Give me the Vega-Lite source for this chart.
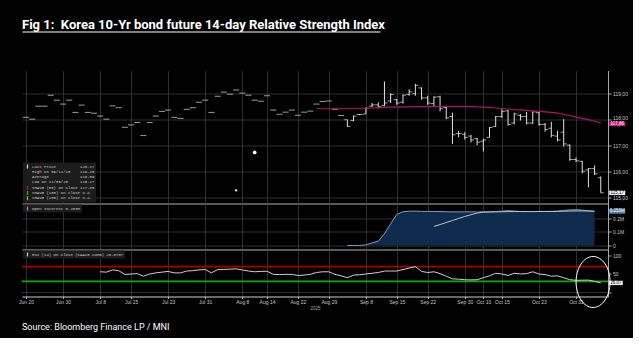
{
  "$schema": "https://vega.github.io/schema/vega-lite/v6.json",
  "background": "#000000",
  "padding": {"left": 18, "top": 18.5, "right": 5, "bottom": 5},
  "title": {"text": "Fig 1:\u00a0 Korea 10-Yr bond future 14-day Relative Strength Index", "anchor": "start", "frame": "group", "offset": 0, "fontSize": 13, "font": "Roboto", "fontWeight": "bold", "color": "#ffffff"},
  "datasets": {
    "px": [
      {"d":"Jun 20","o":118.07,"c":118.07},
      {"d":"Jun 23","o":118.0,"c":118.0},
      {"d":"Jun 24","o":118.5,"c":118.5},
      {"d":"Jun 25","o":118.5,"c":118.5},
      {"d":"Jun 26","o":118.92,"c":118.92},
      {"d":"Jun 27","o":118.73,"c":118.73},
      {"d":"Jun 30","o":118.58,"c":118.58},
      {"d":"Jul 1","o":118.73,"c":118.73},
      {"d":"Jul 2","o":118.26,"c":118.26},
      {"d":"Jul 3","o":118.54,"c":118.54},
      {"d":"Jul 4","o":118.26,"c":118.26},
      {"d":"Jul 7","o":118.23,"c":118.23},
      {"d":"Jul 8","o":118.12,"c":118.12,"rsi":56},
      {"d":"Jul 9","o":118.0,"c":118.0,"rsi":55},
      {"d":"Jul 10","o":118.51,"c":118.51,"rsi":61},
      {"d":"Jul 11","o":118.44,"c":118.44,"rsi":59},
      {"d":"Jul 14","o":117.69,"c":117.69,"rsi":48.6},
      {"d":"Jul 15","o":117.78,"c":117.78,"rsi":50},
      {"d":"Jul 16","o":117.87,"c":117.87,"rsi":51},
      {"d":"Jul 17","o":117.37,"c":117.37,"rsi":44},
      {"d":"Jul 18","o":117.87,"c":117.87,"rsi":50},
      {"d":"Jul 21","o":118.12,"c":118.12,"rsi":53},
      {"d":"Jul 22","o":118.3,"c":118.3,"rsi":55},
      {"d":"Jul 23","o":118.35,"c":118.35,"rsi":57},
      {"d":"Jul 24","o":118.07,"c":118.07,"rsi":53},
      {"d":"Jul 25","o":118.03,"c":118.03,"rsi":53},
      {"d":"Jul 28","o":118.38,"c":118.38,"rsi":58},
      {"d":"Jul 29","o":118.44,"c":118.44,"rsi":59},
      {"d":"Jul 30","o":118.65,"c":118.65,"rsi":61},
      {"d":"Jul 31","o":118.73,"c":118.73,"rsi":62},
      {"d":"Aug 1","o":118.26,"c":118.26,"rsi":53},
      {"d":"Aug 4","o":118.88,"c":118.88,"rsi":62},
      {"d":"Aug 5","o":119.04,"c":119.04,"rsi":62.5},
      {"d":"Aug 6","o":118.96,"c":118.96,"rsi":63},
      {"d":"Aug 7","o":119.12,"c":119.12,"rsi":64},
      {"d":"Aug 8","o":119.0,"c":119.0,"rsi":61},
      {"d":"Aug 11","o":118.92,"c":118.92,"rsi":58},
      {"d":"Aug 12","o":118.73,"c":118.73,"rsi":56},
      {"d":"Aug 13","o":118.69,"c":118.69,"rsi":57},
      {"d":"Aug 14","o":118.9,"c":118.9,"rsi":57.5},
      {"d":"Aug 18","o":118.35,"c":118.35,"rsi":49},
      {"d":"Aug 19","o":118.19,"c":118.19,"rsi":48.5},
      {"d":"Aug 20","o":118.27,"c":118.27,"rsi":49},
      {"d":"Aug 21","o":118.35,"c":118.35,"rsi":49},
      {"d":"Aug 22","o":118.15,"c":118.15,"rsi":46},
      {"d":"Aug 25","o":118.27,"c":118.27,"rsi":47},
      {"d":"Aug 26","o":118.31,"c":118.31,"rsi":49},
      {"d":"Aug 27","o":118.58,"c":118.58,"rsi":54,"ma":118.41},
      {"d":"Aug 28","o":118.68,"c":118.68,"rsi":56,"ma":118.4},
      {"d":"Aug 29","o":118.7,"c":118.7,"rsi":56,"ma":118.4},
      {"d":"Sep 1","o":118.38,"c":118.38,"rsi":49,"ma":118.4},
      {"d":"Sep 2","o":118.14,"c":118.14,"rsi":45,"ma":118.4},
      {"d":"Sep 3","o":117.98,"h":117.98,"l":117.7,"c":117.72,"rsi":40,"ma":118.41,"oi":0.0},
      {"d":"Sep 4","o":117.95,"h":118.14,"l":117.92,"c":118.12,"rsi":47,"ma":118.41,"oi":0.0},
      {"d":"Sep 5","o":118.18,"h":118.2,"l":118.15,"c":118.18,"rsi":48,"ma":118.42,"oi":0.001},
      {"d":"Sep 8","o":118.2,"h":118.45,"l":118.2,"c":118.42,"rsi":50,"ma":118.42,"oi":0.004},
      {"d":"Sep 9","o":118.5,"h":118.62,"l":118.46,"c":118.55,"rsi":52,"ma":118.43,"oi":0.02},
      {"d":"Sep 10","o":118.55,"h":118.65,"l":118.42,"c":118.48,"rsi":54,"ma":118.44,"oi":0.032},
      {"d":"Sep 11","o":118.52,"h":119.45,"l":118.5,"c":118.62,"rsi":58,"ma":118.45,"oi":0.087},
      {"d":"Sep 12","o":118.7,"h":119.0,"l":118.62,"c":118.95,"rsi":58,"ma":118.46,"oi":0.16},
      {"d":"Sep 15","o":118.75,"h":118.78,"l":118.55,"c":118.62,"rsi":58,"ma":118.46,"oi":0.23},
      {"d":"Sep 16","o":118.65,"h":118.95,"l":118.6,"c":118.92,"rsi":62,"ma":118.47,"oi":0.25},
      {"d":"Sep 17","o":118.95,"h":119.15,"l":118.9,"c":119.05,"rsi":66,"ma":118.47,"oi":0.254},
      {"d":"Sep 18","o":118.98,"h":119.36,"l":118.9,"c":119.3,"rsi":70,"ma":118.48,"oi":0.255},
      {"d":"Sep 19","o":119.2,"h":119.22,"l":118.75,"c":118.82,"rsi":57,"ma":118.48,"oi":0.253},
      {"d":"Sep 22","o":118.82,"h":118.9,"l":118.55,"c":118.62,"rsi":54,"ma":118.48,"oi":0.252},
      {"d":"Sep 23","o":118.6,"h":118.88,"l":118.5,"c":118.85,"rsi":56,"ma":118.48,"oi":0.252,"oim":0.141},
      {"d":"Sep 24","o":118.86,"h":118.9,"l":118.3,"c":118.4,"rsi":51,"ma":118.49,"oi":0.251,"oim":0.155},
      {"d":"Sep 25","o":118.45,"h":118.5,"l":118.0,"c":118.05,"rsi":44,"ma":118.49,"oi":0.25,"oim":0.17},
      {"d":"Sep 26","o":118.1,"h":118.25,"l":117.05,"c":117.4,"rsi":37,"ma":118.49,"oi":0.249,"oim":0.185},
      {"d":"Sep 29","o":117.45,"h":117.55,"l":117.3,"c":117.45,"rsi":36,"ma":118.49,"oi":0.249,"oim":0.2},
      {"d":"Sep 30","o":117.42,"h":117.5,"l":117.22,"c":117.3,"rsi":34.5,"ma":118.49,"oi":0.249,"oim":0.215},
      {"d":"Oct 1","o":117.35,"h":117.4,"l":117.1,"c":117.2,"rsi":34,"ma":118.48,"oi":0.249,"oim":0.228},
      {"d":"Oct 2","o":117.25,"h":117.28,"l":117.0,"c":117.12,"rsi":34.5,"ma":118.47,"oi":0.248,"oim":0.24},
      {"d":"Oct 10","o":117.15,"h":117.25,"l":116.76,"c":117.2,"rsi":40,"ma":118.46,"oi":0.249,"oim":0.247},
      {"d":"Oct 13","o":117.3,"h":117.7,"l":117.3,"c":117.68,"rsi":45,"ma":118.45,"oi":0.25,"oim":0.248},
      {"d":"Oct 14","o":117.72,"h":118.12,"l":117.7,"c":118.1,"rsi":52,"ma":118.43,"oi":0.252,"oim":0.249},
      {"d":"Oct 15","o":118.1,"h":118.38,"l":118.05,"c":118.3,"rsi":50,"ma":118.41,"oi":0.254,"oim":0.25},
      {"d":"Oct 16","o":118.32,"h":118.35,"l":117.75,"c":117.8,"rsi":46,"ma":118.39,"oi":0.258,"oim":0.251},
      {"d":"Oct 17","o":117.85,"h":118.25,"l":117.8,"c":118.2,"rsi":52,"ma":118.37,"oi":0.255,"oim":0.251},
      {"d":"Oct 20","o":118.15,"h":118.2,"l":117.95,"c":118.1,"rsi":50,"ma":118.36,"oi":0.252,"oim":0.251},
      {"d":"Oct 21","o":118.1,"h":118.28,"l":117.8,"c":117.85,"rsi":51,"ma":118.34,"oi":0.252,"oim":0.251},
      {"d":"Oct 22","o":117.85,"h":118.3,"l":117.82,"c":118.28,"rsi":56,"ma":118.32,"oi":0.251,"oim":0.251},
      {"d":"Oct 23","o":118.25,"h":118.3,"l":117.75,"c":117.8,"rsi":50,"ma":118.3,"oi":0.252,"oim":0.252},
      {"d":"Oct 24","o":117.8,"h":117.85,"l":117.52,"c":117.6,"rsi":48.6,"ma":118.28,"oi":0.252,"oim":0.252},
      {"d":"Oct 27","o":117.65,"h":117.9,"l":117.3,"c":117.38,"rsi":44,"ma":118.26,"oi":0.253,"oim":0.252},
      {"d":"Oct 28","o":117.35,"h":117.55,"l":117.15,"c":117.2,"rsi":45,"ma":118.23,"oi":0.254,"oim":0.253},
      {"d":"Oct 29","o":117.5,"h":118.0,"l":116.95,"c":117.05,"rsi":40,"ma":118.19,"oi":0.26,"oim":0.254},
      {"d":"Oct 30","o":117.0,"h":117.03,"l":116.4,"c":116.45,"rsi":34.5,"ma":118.14,"oi":0.264,"oim":0.255},
      {"d":"Oct 31","o":116.45,"h":116.52,"l":116.35,"c":116.4,"rsi":33,"ma":118.08,"oi":0.265,"oim":0.256},
      {"d":"Nov 3","o":116.38,"h":116.4,"l":115.92,"c":116.0,"rsi":33.2,"ma":118.03,"oi":0.262,"oim":0.256},
      {"d":"Nov 4","o":116.05,"h":116.12,"l":115.38,"c":116.1,"rsi":33.5,"ma":117.98,"oi":0.258,"oim":0.255},
      {"d":"Nov 5","o":116.1,"h":116.22,"l":115.85,"c":115.9,"rsi":30,"ma":117.92,"oi":0.253,"oim":0.254},
      {"d":"Nov 6","o":115.75,"h":115.8,"l":115.17,"c":115.17,"rsi":26.07,"ma":117.86}
    ],
    "ev": [
      {"d":"Aug 12","p":116.72,"kind":"big"},
      {"d":"Aug 7","p":115.26,"kind":"small"}
    ],
    "ann": [
      {"d":"Nov 5","rsi":28.4}
    ]
  },
  "bounds": "flush",
  "spacing": 0,
  "vconcat": [
    {
      "width": 358,
      "height": 38.5,
      "data": {"values": []},
      "mark": "rule",
      "encoding": {
        "x": {"field": "u", "type": "quantitative", "scale": {"domain": [0, 1]},
          "axis": {"orient": "top", "labels": false, "ticks": false, "grid": false, "domain": true, "domainColor": "#ffffff", "domainWidth": 1.2, "title": null}}
      }
    },
    {
      "width": 586,
      "height": 133,
      "data": {"name": "px"},
      "encoding": {
        "x": {"field": "d", "type": "ordinal",
          "scale": {"type": "point", "padding": 0.91, "align": 0.356, "domain": ["Jun 20","Jun 23","Jun 24","Jun 25","Jun 26","Jun 27","Jun 30","Jul 1","Jul 2","Jul 3","Jul 4","Jul 7","Jul 8","Jul 9","Jul 10","Jul 11","Jul 14","Jul 15","Jul 16","Jul 17","Jul 18","Jul 21","Jul 22","Jul 23","Jul 24","Jul 25","Jul 28","Jul 29","Jul 30","Jul 31","Aug 1","Aug 4","Aug 5","Aug 6","Aug 7","Aug 8","Aug 11","Aug 12","Aug 13","Aug 14","Aug 18","Aug 19","Aug 20","Aug 21","Aug 22","Aug 25","Aug 26","Aug 27","Aug 28","Aug 29","Sep 1","Sep 2","Sep 3","Sep 4","Sep 5","Sep 8","Sep 9","Sep 10","Sep 11","Sep 12","Sep 15","Sep 16","Sep 17","Sep 18","Sep 19","Sep 22","Sep 23","Sep 24","Sep 25","Sep 26","Sep 29","Sep 30","Oct 1","Oct 2","Oct 10","Oct 13","Oct 14","Oct 15","Oct 16","Oct 17","Oct 20","Oct 21","Oct 22","Oct 23","Oct 24","Oct 27","Oct 28","Oct 29","Oct 30","Oct 31","Nov 3","Nov 4","Nov 5","Nov 6"]},
          "axis": {"values": ["Jun 20","Jun 30","Jul 8","Jul 15","Jul 23","Jul 31","Aug 8","Aug 14","Aug 22","Aug 29","Sep 8","Sep 15","Sep 22","Sep 30","Oct 10","Oct 15","Oct 23","Oct 31"], "labels": false, "ticks": false, "domain": true, "domainColor": "#5a5a5a", "domainWidth": 2, "grid": true, "title": null}
        }
      },
      "layer": [
        {
          "mark": {"type": "rule", "color": "#e4e4e4", "strokeWidth": 1},
          "transform": [{"filter": "isValid(datum.h)"}],
          "encoding": {
            "y": {"field": "h", "type": "quantitative", "scale": {"domain": [114.76, 119.87], "zero": false, "nice": false},
              "axis": {"orient": "right", "title": null, "values": [115, 116, 117, 118, 119], "tickCount": 5, "labelOverlap": false, "labelExpr": "replace(format(datum.value, '.2f'), '.', ',')", "labelOffset": {"condition": {"test": "datum.value == 118", "value": -1.3}, "value": 0}, "grid": true, "tickSize": 3}},
            "y2": {"field": "l"}
          }
        },
        {
          "mark": {"type": "tick", "orient": "horizontal", "color": "#e4e4e4", "size": 3, "thickness": 1, "xOffset": -1.5},
          "encoding": {"y": {"field": "o", "type": "quantitative", "scale": {"domain": [114.76, 119.87], "zero": false, "nice": false}}}
        },
        {
          "mark": {"type": "tick", "orient": "horizontal", "color": "#e4e4e4", "size": 3, "thickness": 1, "xOffset": 1.5},
          "encoding": {"y": {"field": "c", "type": "quantitative", "scale": {"domain": [114.76, 119.87], "zero": false, "nice": false}}}
        },
        {
          "mark": {"type": "line", "strokeWidth": 1.2},
          "transform": [{"filter": "isValid(datum.ma)"}],
          "encoding": {
            "y": {"field": "ma", "type": "quantitative", "scale": {"domain": [114.76, 119.87], "zero": false, "nice": false}},
            "color": {"datum": "SMAVG (50) on Close 117.85",
              "scale": {"domain": ["Last Price          115.17", "High on 09/11/25    119.45", "Average             118.09", "Low on 11/06/25     115.17", "SMAVG (50) on Close 117.85", "SMAVG (100) on Close n.a.", "SMAVG (200) on Close n.a."],
                "range": ["#d8d8d8", "#1c1c1c", "#1c1c1c", "#1c1c1c", "#b0126a", "#1faa1f", "#c8a010"]},
              "legend": {"orient": "bottom-left", "offset": 1, "title": null, "fillColor": "#1c1c1c", "padding": 1.5, "labelFont": "Liberation Mono", "labelFontSize": 4, "labelColor": "#cfcfcf", "symbolType": "M0,-1V1", "symbolSize": 16, "symbolStrokeWidth": 1.2, "rowPadding": 0.3, "clipHeight": 5, "labelOffset": 1.5, "labelLimit": 200, "labelExpr": "replace(datum.label, regexp(' ', 'g'), '\u00a0')"}
            }
          }
        },
        {
          "transform": [{"filter": "datum.d == 'Nov 6'"}, {"calculate": "replace(format(datum.ma, '.2f'), '.', ',')", "as": "tag"}],
          "mark": {"type": "point", "shape": "M-1,-0.28H1V0.28H-1Z", "size": 256, "filled": true, "color": "#e0148c", "opacity": 1, "xOffset": 16.5, "yOffset": 1},
          "encoding": {"y": {"field": "ma", "type": "quantitative", "scale": {"domain": [114.76, 119.87], "zero": false, "nice": false}}}
        },
        {
          "transform": [{"filter": "datum.d == 'Nov 6'"}, {"calculate": "replace(format(datum.ma, '.2f'), '.', ',')", "as": "tag"}],
          "mark": {"type": "text", "color": "#ffffff", "fontSize": 4.5, "xOffset": 16.5, "yOffset": 1, "align": "center", "baseline": "middle"},
          "encoding": {"y": {"field": "ma", "type": "quantitative", "scale": {"domain": [114.76, 119.87], "zero": false, "nice": false}}, "text": {"field": "tag"}}
        },
        {
          "transform": [{"filter": "datum.d == 'Nov 6'"}, {"calculate": "replace(format(datum.c, '.2f'), '.', ',')", "as": "tag"}],
          "mark": {"type": "point", "shape": "M-1,-0.28H1V0.28H-1Z", "size": 256, "filled": true, "color": "#f2f2f2", "opacity": 1, "xOffset": 16.5},
          "encoding": {"y": {"field": "c", "type": "quantitative", "scale": {"domain": [114.76, 119.87], "zero": false, "nice": false}}}
        },
        {
          "transform": [{"filter": "datum.d == 'Nov 6'"}, {"calculate": "replace(format(datum.c, '.2f'), '.', ',')", "as": "tag"}],
          "mark": {"type": "text", "color": "#000000", "fontSize": 4.5, "xOffset": 16.5, "align": "center", "baseline": "middle"},
          "encoding": {"y": {"field": "c", "type": "quantitative", "scale": {"domain": [114.76, 119.87], "zero": false, "nice": false}}, "text": {"field": "tag"}}
        },
        {
          "data": {"name": "ev"},
          "mark": {"type": "circle", "color": "#ffffff", "opacity": 1},
          "encoding": {
            "y": {"field": "p", "type": "quantitative", "scale": {"domain": [114.76, 119.87], "zero": false, "nice": false}},
            "size": {"field": "kind", "type": "nominal", "scale": {"domain": ["big", "small"], "range": [14, 5]}, "legend": null}
          }
        }
      ]
    },
    {
      "width": 586,
      "height": 46,
      "data": {"name": "px"},
      "encoding": {
        "x": {"field": "d", "type": "ordinal",
          "scale": {"type": "point", "padding": 0.91, "align": 0.356, "domain": ["Jun 20","Jun 23","Jun 24","Jun 25","Jun 26","Jun 27","Jun 30","Jul 1","Jul 2","Jul 3","Jul 4","Jul 7","Jul 8","Jul 9","Jul 10","Jul 11","Jul 14","Jul 15","Jul 16","Jul 17","Jul 18","Jul 21","Jul 22","Jul 23","Jul 24","Jul 25","Jul 28","Jul 29","Jul 30","Jul 31","Aug 1","Aug 4","Aug 5","Aug 6","Aug 7","Aug 8","Aug 11","Aug 12","Aug 13","Aug 14","Aug 18","Aug 19","Aug 20","Aug 21","Aug 22","Aug 25","Aug 26","Aug 27","Aug 28","Aug 29","Sep 1","Sep 2","Sep 3","Sep 4","Sep 5","Sep 8","Sep 9","Sep 10","Sep 11","Sep 12","Sep 15","Sep 16","Sep 17","Sep 18","Sep 19","Sep 22","Sep 23","Sep 24","Sep 25","Sep 26","Sep 29","Sep 30","Oct 1","Oct 2","Oct 10","Oct 13","Oct 14","Oct 15","Oct 16","Oct 17","Oct 20","Oct 21","Oct 22","Oct 23","Oct 24","Oct 27","Oct 28","Oct 29","Oct 30","Oct 31","Nov 3","Nov 4","Nov 5","Nov 6"]},
          "axis": {"values": ["Jun 20","Jun 30","Jul 8","Jul 15","Jul 23","Jul 31","Aug 8","Aug 14","Aug 22","Aug 29","Sep 8","Sep 15","Sep 22","Sep 30","Oct 10","Oct 15","Oct 23","Oct 31"], "labels": false, "ticks": false, "domain": true, "domainColor": "#5a5a5a", "domainWidth": 2, "grid": true, "title": null}
        }
      },
      "layer": [
        {
          "mark": {"type": "area", "color": "#0e2a4c", "opacity": 1},
          "transform": [{"filter": "isValid(datum.oi)"}],
          "encoding": {
            "y": {"field": "oi", "type": "quantitative", "scale": {"domain": [-0.0296, 0.311], "zero": false, "nice": false},
              "axis": {"orient": "right", "title": null, "values": [0, 0.1, 0.2], "tickCount": 3, "labelOverlap": false, "labelExpr": "datum.value == 0 ? '0' : datum.value > 0.25 ? '' : format(datum.value, '.1f') + 'M'", "grid": true, "tickSize": 3}},
            "y2": {"datum": 0}
          }
        },
        {
          "mark": {"type": "line", "strokeWidth": 1},
          "transform": [{"filter": "isValid(datum.oi)"}],
          "encoding": {
            "y": {"field": "oi", "type": "quantitative", "scale": {"domain": [-0.0296, 0.311], "zero": false, "nice": false}},
            "color": {"datum": "Open Interest 0.253M", "scale": {"domain": ["Open Interest 0.253M"], "range": ["#7d9bc1"]},
              "legend": {"orient": "top-left", "offset": 1, "title": null, "fillColor": "#1c1c1c", "padding": 1.5, "labelFont": "Liberation Mono", "labelFontSize": 4, "labelColor": "#cfcfcf", "symbolType": "M0,-1V1", "symbolSize": 16, "symbolStrokeWidth": 1.2, "clipHeight": 5, "labelOffset": 1.5, "labelLimit": 200}
            }
          }
        },
        {
          "mark": {"type": "line", "color": "#b8c4d0", "strokeWidth": 1},
          "transform": [{"filter": "isValid(datum.oim)"}],
          "encoding": {
            "y": {"field": "oim", "type": "quantitative", "scale": {"domain": [-0.0296, 0.311], "zero": false, "nice": false}}
          }
        },
        {
          "transform": [{"filter": "datum.d == 'Nov 5'"}, {"calculate": "format(datum.oi, '.3f') + 'M'", "as": "tag"}],
          "mark": {"type": "point", "shape": "M-1,-0.3H1V0.3H-1Z", "size": 256, "filled": true, "color": "#5f82b0", "opacity": 1, "xOffset": 22.6},
          "encoding": {"y": {"field": "oi", "type": "quantitative", "scale": {"domain": [-0.0296, 0.311], "zero": false, "nice": false}}}
        },
        {
          "transform": [{"filter": "datum.d == 'Nov 5'"}, {"calculate": "format(datum.oi, '.3f') + 'M'", "as": "tag"}],
          "mark": {"type": "text", "color": "#ffffff", "fontSize": 4.5, "xOffset": 22.6, "align": "center", "baseline": "middle"},
          "encoding": {"y": {"field": "oi", "type": "quantitative", "scale": {"domain": [-0.0296, 0.311], "zero": false, "nice": false}}, "text": {"field": "tag"}}
        }
      ]
    },
    {
      "width": 586,
      "height": 47,
      "data": {"name": "px"},
      "title": {"text": "Source: Bloomberg Finance LP / MNI", "orient": "bottom", "anchor": "start", "frame": "group", "offset": 13, "fontSize": 9, "font": "Roboto", "fontWeight": "normal", "color": "#ffffff"},
      "layer": [
        {
          "data": {"values": [{"lvl": 70}]},
          "mark": {"type": "rule", "color": "#a80000", "strokeWidth": 1.6},
          "encoding": {"y": {"field": "lvl", "type": "quantitative", "scale": {"domain": [-10.8, 116.2], "zero": false, "nice": false}}}
        },
        {
          "data": {"values": [{"lvl": 30}]},
          "mark": {"type": "rule", "color": "#00b000", "strokeWidth": 1.6},
          "encoding": {"y": {"field": "lvl", "type": "quantitative", "scale": {"domain": [-10.8, 116.2], "zero": false, "nice": false}}}
        },
        {
          "data": {"values": [{"lvl": 0}]},
          "mark": {"type": "rule", "color": "#3a3a3a", "strokeWidth": 0.8},
          "encoding": {"y": {"field": "lvl", "type": "quantitative", "scale": {"domain": [-10.8, 116.2], "zero": false, "nice": false}}}
        },
        {
          "mark": {"type": "line", "strokeWidth": 1},
          "transform": [{"filter": "isValid(datum.rsi)"}],
          "encoding": {
            "x": {"field": "d", "type": "ordinal",
              "scale": {"type": "point", "padding": 0.91, "align": 0.356, "domain": ["Jun 20","Jun 23","Jun 24","Jun 25","Jun 26","Jun 27","Jun 30","Jul 1","Jul 2","Jul 3","Jul 4","Jul 7","Jul 8","Jul 9","Jul 10","Jul 11","Jul 14","Jul 15","Jul 16","Jul 17","Jul 18","Jul 21","Jul 22","Jul 23","Jul 24","Jul 25","Jul 28","Jul 29","Jul 30","Jul 31","Aug 1","Aug 4","Aug 5","Aug 6","Aug 7","Aug 8","Aug 11","Aug 12","Aug 13","Aug 14","Aug 18","Aug 19","Aug 20","Aug 21","Aug 22","Aug 25","Aug 26","Aug 27","Aug 28","Aug 29","Sep 1","Sep 2","Sep 3","Sep 4","Sep 5","Sep 8","Sep 9","Sep 10","Sep 11","Sep 12","Sep 15","Sep 16","Sep 17","Sep 18","Sep 19","Sep 22","Sep 23","Sep 24","Sep 25","Sep 26","Sep 29","Sep 30","Oct 1","Oct 2","Oct 10","Oct 13","Oct 14","Oct 15","Oct 16","Oct 17","Oct 20","Oct 21","Oct 22","Oct 23","Oct 24","Oct 27","Oct 28","Oct 29","Oct 30","Oct 31","Nov 3","Nov 4","Nov 5","Nov 6"]},
              "axis": {"values": ["Jun 20","Jun 30","Jul 8","Jul 15","Jul 23","Jul 31","Aug 8","Aug 14","Aug 22","Aug 29","Sep 8","Sep 15","Sep 22","Sep 30","Oct 10","Oct 15","Oct 23","Oct 31"], "labels": true, "labelAngle": 0, "labelOverlap": false, "labelFontSize": 5, "labelPadding": 1, "ticks": true, "tickSize": 2, "domain": true, "domainColor": "#d0d0d0", "domainWidth": 1, "grid": true, "title": "2025", "titleFontSize": 4.5, "titlePadding": 1}
            },
            "y": {"field": "rsi", "type": "quantitative", "scale": {"domain": [-10.8, 116.2], "zero": false, "nice": false},
              "axis": {"orient": "right", "title": null, "values": [0, 50, 100], "tickCount": 3, "labelOverlap": false, "labelExpr": "datum.value == 0 ? '' : datum.label", "grid": false, "tickSize": 3}},
            "color": {"datum": "RSI (14) on Close (KAA25 COMB) 26.0707", "scale": {"domain": ["RSI (14) on Close (KAA25 COMB) 26.0707"], "range": ["#d0d0d0"]},
              "legend": {"orient": "top-left", "offset": 1, "title": null, "fillColor": "#1c1c1c", "padding": 1.5, "labelFont": "Liberation Mono", "labelFontSize": 4, "labelColor": "#cfcfcf", "symbolType": "M0,-1V1", "symbolSize": 16, "symbolStrokeWidth": 1.2, "clipHeight": 5, "labelOffset": 1.5, "labelLimit": 200}
            }
          }
        },
        {
          "transform": [{"filter": "datum.d == 'Nov 6'"}, {"calculate": "format(datum.rsi, '.2f')", "as": "tag"}],
          "mark": {"type": "point", "shape": "M-1,-0.32H1V0.32H-1Z", "size": 196, "filled": true, "color": "#f2f2f2", "opacity": 1, "xOffset": 15},
          "encoding": {
            "x": {"field": "d", "type": "ordinal", "scale": {"type": "point", "padding": 0.91, "align": 0.356}},
            "y": {"field": "rsi", "type": "quantitative", "scale": {"domain": [-10.8, 116.2], "zero": false, "nice": false}}
          }
        },
        {
          "transform": [{"filter": "datum.d == 'Nov 6'"}, {"calculate": "format(datum.rsi, '.2f')", "as": "tag"}],
          "mark": {"type": "text", "color": "#000000", "fontSize": 4.5, "xOffset": 15, "align": "center", "baseline": "middle"},
          "encoding": {
            "x": {"field": "d", "type": "ordinal", "scale": {"type": "point", "padding": 0.91, "align": 0.356}},
            "y": {"field": "rsi", "type": "quantitative", "scale": {"domain": [-10.8, 116.2], "zero": false, "nice": false}},
            "text": {"field": "tag"}
          }
        },
        {
          "data": {"name": "ann"},
          "mark": {"type": "point", "shape": "M-0.667,0A0.667,1,0,1,0,0.667,0A0.667,1,0,1,0,-0.667,0", "size": 2601, "filled": false, "color": "#ffffff", "strokeWidth": 1, "opacity": 1, "xOffset": -1.5},
          "encoding": {
            "x": {"field": "d", "type": "ordinal", "scale": {"type": "point", "padding": 0.91, "align": 0.356}},
            "y": {"field": "rsi", "type": "quantitative", "scale": {"domain": [-10.8, 116.2], "zero": false, "nice": false}}
          }
        }
      ]
    }
  ],
  "resolve": {"scale": {"color": "independent", "y": "independent"}, "legend": {"color": "independent"}},
  "config": {
    "view": {"stroke": null},
    "font": "Liberation Sans",
    "axis": {"labelColor": "#c8c8c8", "labelFontSize": 5, "labelFont": "Liberation Sans", "labelOverlap": false, "gridColor": "#3a3a3a", "gridWidth": 0.8, "domainColor": "#a8a8a8", "tickColor": "#a8a8a8", "tickSize": 2, "labelPadding": 1.5, "titleColor": "#a8a8a8", "titleFontSize": 4.5, "titleFontWeight": "normal"}
  }
}
